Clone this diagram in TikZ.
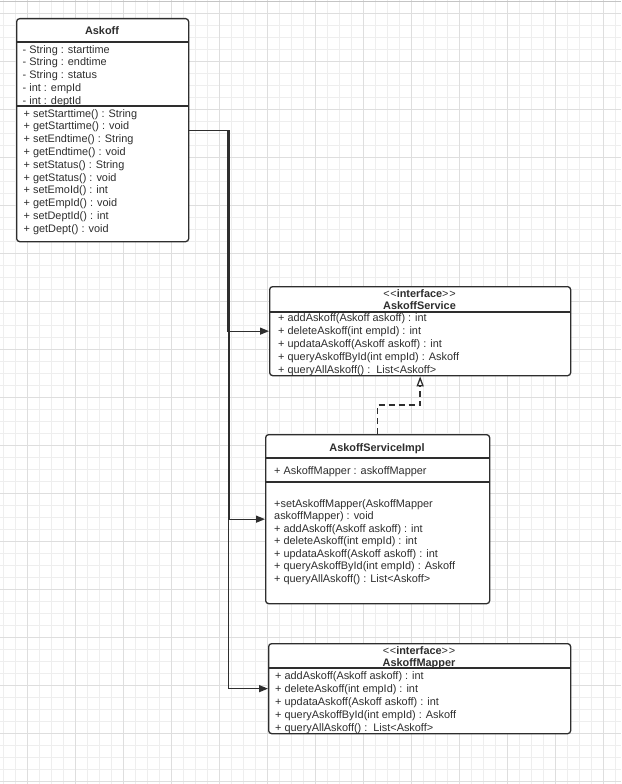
\documentclass[tikz,border=0pt]{standalone}
\usepackage{fontspec}
\setmainfont{Liberation Sans}
\usetikzlibrary{arrows.meta}
\definecolor{ink}{HTML}{2E2E2E}
\definecolor{gridminor}{HTML}{EEEEEE}
\definecolor{gridmajor}{HTML}{DEDEDE}
\definecolor{topline}{HTML}{C4C4C4}
\newcommand{\stereo}[1]{{\mdseries <\kern0.8pt<}#1{\mdseries >\kern0.8pt>}}
\begin{document}
\begin{tikzpicture}[x=1pt,y=-1pt,
  umlbox/.style={draw=ink, line width=1.3pt, rounded corners=3pt, fill=white, inner sep=0pt, anchor=north west},
  txt/.style={anchor=west, inner sep=0pt, text=ink, font=\fontsize{10.9}{13}\selectfont, text height=8pt, text depth=0pt},
  ttl/.style={anchor=center, inner sep=0pt, text=ink, font=\fontsize{10.9}{13}\selectfont\bfseries, text height=8pt, text depth=0pt},
  divider/.style={draw=ink, line width=1.3pt},
  assoc/.style={draw=ink, line width=1.3pt, -{Triangle[length=9pt,width=7pt]}},
  realize/.style={draw=ink, line width=1.6pt, dash pattern=on 6pt off 4pt, -{Triangle[open,length=10pt,width=7pt,line width=1.3pt]}},
  minorline/.style={draw=gridminor, line width=0.9pt},
  majorline/.style={draw=gridmajor, line width=0.9pt}]
\useasboundingbox (0,0) rectangle (621,784);
\fill[white] (0,0) rectangle (621,784);
% grid
\foreach \k in {0,...,51} \draw[minorline] (3.3+12*\k,0) -- (3.3+12*\k,784);
\foreach \k in {0,...,65} \draw[minorline] (0,1.3+12*\k) -- (621,1.3+12*\k);
\foreach \k in {0,...,12} \draw[majorline] (27.3+48*\k,0) -- (27.3+48*\k,784);
\foreach \k in {0,...,16} \draw[majorline] (0,13.3+48*\k) -- (621,13.3+48*\k);
\draw[draw=topline, line width=1pt] (0,1.5) -- (621,1.5);

% Askoff
\node[umlbox, minimum width=172pt, minimum height=223pt] (askoff) at (16,18) {};
\draw[divider] (askoff.west |- 0,42) -- (askoff.east |- 0,42);
\draw[divider] (askoff.west |- 0,106) -- (askoff.east |- 0,106);
\node[ttl] (askofft) at (102,31) {Askoff};
\foreach \t [count=\i] in {{- String : starttime},{- String : endtime},{- String : status},{- int : empId},{- int : deptId}}
  \node[txt] (aa\i) at (22.5,49+12.8*\i-12.8) {\t};
\foreach \t [count=\i] in {{+ setStarttime() : String},{+ getStarttime() : void},{+ setEndtime() : String},{+ getEndtime() : void},{+ setStatus() : String},{+ getStatus() : void},{+ setEmoId() : int},{+ getEmpId() : void},{+ setDeptId() : int},{+ getDept() : void}}
  \node[txt] (am\i) at (23.5,113+12.8*\i-12.8) {\t};

% AskoffService
\node[umlbox, minimum width=301pt, minimum height=89pt] (service) at (269,286) {};
\draw[divider] (service.west |- 0,312) -- (service.east |- 0,312);
\node[ttl] (servicei) at (419.5,293.5) {\stereo{interface}};
\node[ttl] (servicet) at (419.5,305) {AskoffService};
\foreach \t [count=\i] in {{+ addAskoff(Askoff askoff) : int},{+ deleteAskoff(int empId) : int},{+ updataAskoff(Askoff askoff) : int},{+ queryAskoffById(int empId) : Askoff},{+ queryAllAskoff() :\ \ List<Askoff>}}
  \node[txt] (sm\i) at (278,317+13*\i-13) {\t};

% AskoffServiceImpl
\node[umlbox, minimum width=224pt, minimum height=169pt] (impl) at (265,434) {};
\draw[divider] (impl.west |- 0,458) -- (impl.east |- 0,458);
\draw[divider] (impl.west |- 0,482) -- (impl.east |- 0,482);
\node[ttl] (implt) at (377,447) {AskoffServiceImpl};
\node[txt] (ia1) at (274,470) {+ AskoffMapper : askoffMapper};
\foreach \t [count=\i] in {{+setAskoffMapper(AskoffMapper},{askoffMapper) : void},{+ addAskoff(Askoff askoff) : int},{+ deleteAskoff(int empId) : int},{+ updataAskoff(Askoff askoff) : int},{+ queryAskoffById(int empId) : Askoff},{+ queryAllAskoff() : List<Askoff>}}
  \node[txt] (im\i) at (274,503+12.5*\i-12.5) {\t};

% AskoffMapper
\node[umlbox, minimum width=302pt, minimum height=90pt] (mapper) at (268,643) {};
\draw[divider] (mapper.west |- 0,668) -- (mapper.east |- 0,668);
\node[ttl] (mapperi) at (419,650.5) {\stereo{interface}};
\node[ttl] (mappert) at (419,662.5) {AskoffMapper};
\foreach \t [count=\i] in {{+ addAskoff(Askoff askoff) : int},{+ deleteAskoff(int empId) : int},{+ updataAskoff(Askoff askoff) : int},{+ queryAskoffById(int empId) : Askoff},{+ queryAllAskoff() :\ \ List<Askoff>}}
  \node[txt] (mm\i) at (275,675+13*\i-13) {\t};

% connectors
\draw[assoc] (askoff.east) -- ++(38,0) |- (service.west);
\draw[assoc] (askoff.east) -- ++(40.5,0) |- (impl.west);
\draw[assoc] (askoff.east) -- ++(39.3,0) |- (mapper.west);
\draw[realize] (impl.north) -- ++(0,-29) -| (service.south);
\end{tikzpicture}
\end{document}
